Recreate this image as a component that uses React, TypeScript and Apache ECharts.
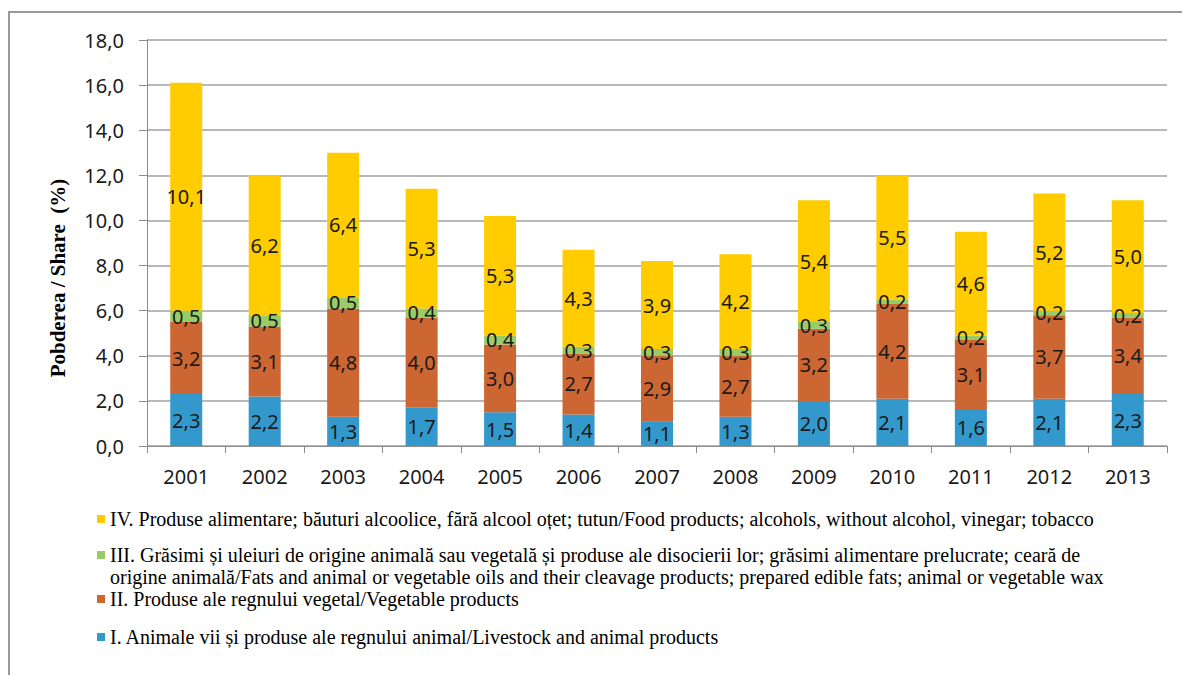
import React, { useEffect, useRef } from "react";
import * as echarts from "echarts";

const years = ["2001", "2002", "2003", "2004", "2005", "2006", "2007", "2008", "2009", "2010", "2011", "2012", "2013"];
const livestock = [2.3, 2.2, 1.3, 1.7, 1.5, 1.4, 1.1, 1.3, 2.0, 2.1, 1.6, 2.1, 2.3];
const vegetable = [3.2, 3.1, 4.8, 4.0, 3.0, 2.7, 2.9, 2.7, 3.2, 4.2, 3.1, 3.7, 3.4];
const fats = [0.5, 0.5, 0.5, 0.4, 0.4, 0.3, 0.3, 0.3, 0.3, 0.2, 0.2, 0.2, 0.2];
const food = [10.1, 6.2, 6.4, 5.3, 5.3, 4.3, 3.9, 4.2, 5.4, 5.5, 4.6, 5.2, 5.0];

const nameI = "I. Animale vii și produse ale regnului animal/Livestock and animal products";
const nameII = "II. Produse ale regnului vegetal/Vegetable products";
const nameIIIa = "III. Grăsimi și uleiuri de origine animală sau vegetală și produse ale disocierii lor; grăsimi alimentare prelucrate; ceară de";
const nameIIIb = "origine animală/Fats and animal or vegetable oils and their cleavage products; prepared edible fats; animal or vegetable wax";
const nameIII = nameIIIa + " " + nameIIIb;
const nameIV = "IV. Produse alimentare; băuturi alcoolice, fără alcool oțet; tutun/Food products; alcohols, without alcohol, vinegar; tobacco";

const colors = { I: "#3399CC", II: "#CC6633", III: "#99CC66", IV: "#FFCC00" };

const fmt = (v: number) => v.toFixed(1).replace(".", ",");

export default function App() {
  const ref = useRef<HTMLDivElement>(null);
  useEffect(() => {
    document.body.style.margin = "0";
    const chart = echarts.init(ref.current!, null, { renderer: "svg" });
    const labelCfg = {
      show: true,
      position: "inside" as const,
      color: "#1a1a1a",
      fontSize: 20,
      fontFamily: "Noto Sans",
      formatter: (p: any) => fmt(p.value),
    };
    const mk = (name: string, data: number[], color: string) => ({
      name,
      type: "bar" as const,
      stack: "total",
      data,
      barWidth: 32,
      itemStyle: { color },
      label: labelCfg,
    });
    const legendBase = {
      left: 97,
      orient: "vertical" as const,
      padding: 0,
      itemWidth: 8,
      itemHeight: 8,
      icon: "rect",
      selectedMode: false,
      textStyle: { fontFamily: "Liberation Serif", fontSize: 20, color: "#000" },
    };
    chart.setOption({
      animation: false,
      backgroundColor: "#fff",
      grid: { left: 147, right: 15, top: 40, bottom: 229 },
      xAxis: {
        type: "category",
        data: years,
        axisLine: { lineStyle: { color: "#8c8c8c", width: 1 } },
        axisTick: { show: true, length: 7, lineStyle: { color: "#8c8c8c" } },
        axisLabel: { margin: 20, fontSize: 20, fontFamily: "Noto Sans", color: "#1a1a1a" },
      },
      yAxis: {
        type: "value",
        min: 0,
        max: 18,
        interval: 2,
        axisLine: { show: true, lineStyle: { color: "#8c8c8c", width: 1 } },
        axisTick: { show: true, length: 8, lineStyle: { color: "#8c8c8c" } },
        splitLine: { lineStyle: { color: "#a0a0a0", width: 1.5 } },
        axisLabel: { margin: 23, fontSize: 20, fontFamily: "Noto Sans", color: "#1a1a1a", formatter: (v: number) => fmt(v) },
      },
      legend: [
        { ...legendBase, top: 509, data: [nameIV] },
        { ...legendBase, top: 545, data: [nameIII], formatter: () => nameIIIa },
        { ...legendBase, top: 567, data: [{ name: nameIII, icon: "none" }], formatter: () => nameIIIb },
        { ...legendBase, top: 589, data: [nameII] },
        { ...legendBase, top: 627, data: [nameI] },
      ],
      graphic: [
        {
          type: "rect",
          shape: { x: 9, y: 12, width: 1200, height: 700 },
          style: { fill: "none", stroke: "#999", lineWidth: 2 },
          silent: true,
        },
        {
          type: "text",
          x: 58,
          y: 278,
          rotation: Math.PI / 2,
          style: {
            text: "Pobderea / Share  (%)",
            fontFamily: "Liberation Serif",
            fontWeight: "bold",
            fontSize: 21,
            fill: "#000",
            align: "center",
            verticalAlign: "middle",
          },
        },
      ],
      series: [
        mk(nameI, livestock, colors.I),
        mk(nameII, vegetable, colors.II),
        mk(nameIII, fats, colors.III),
        mk(nameIV, food, colors.IV),
      ],
    });
    return () => chart.dispose();
  }, []);
  return <div ref={ref} style={{ width: 1182, height: 675 }} />;
}
